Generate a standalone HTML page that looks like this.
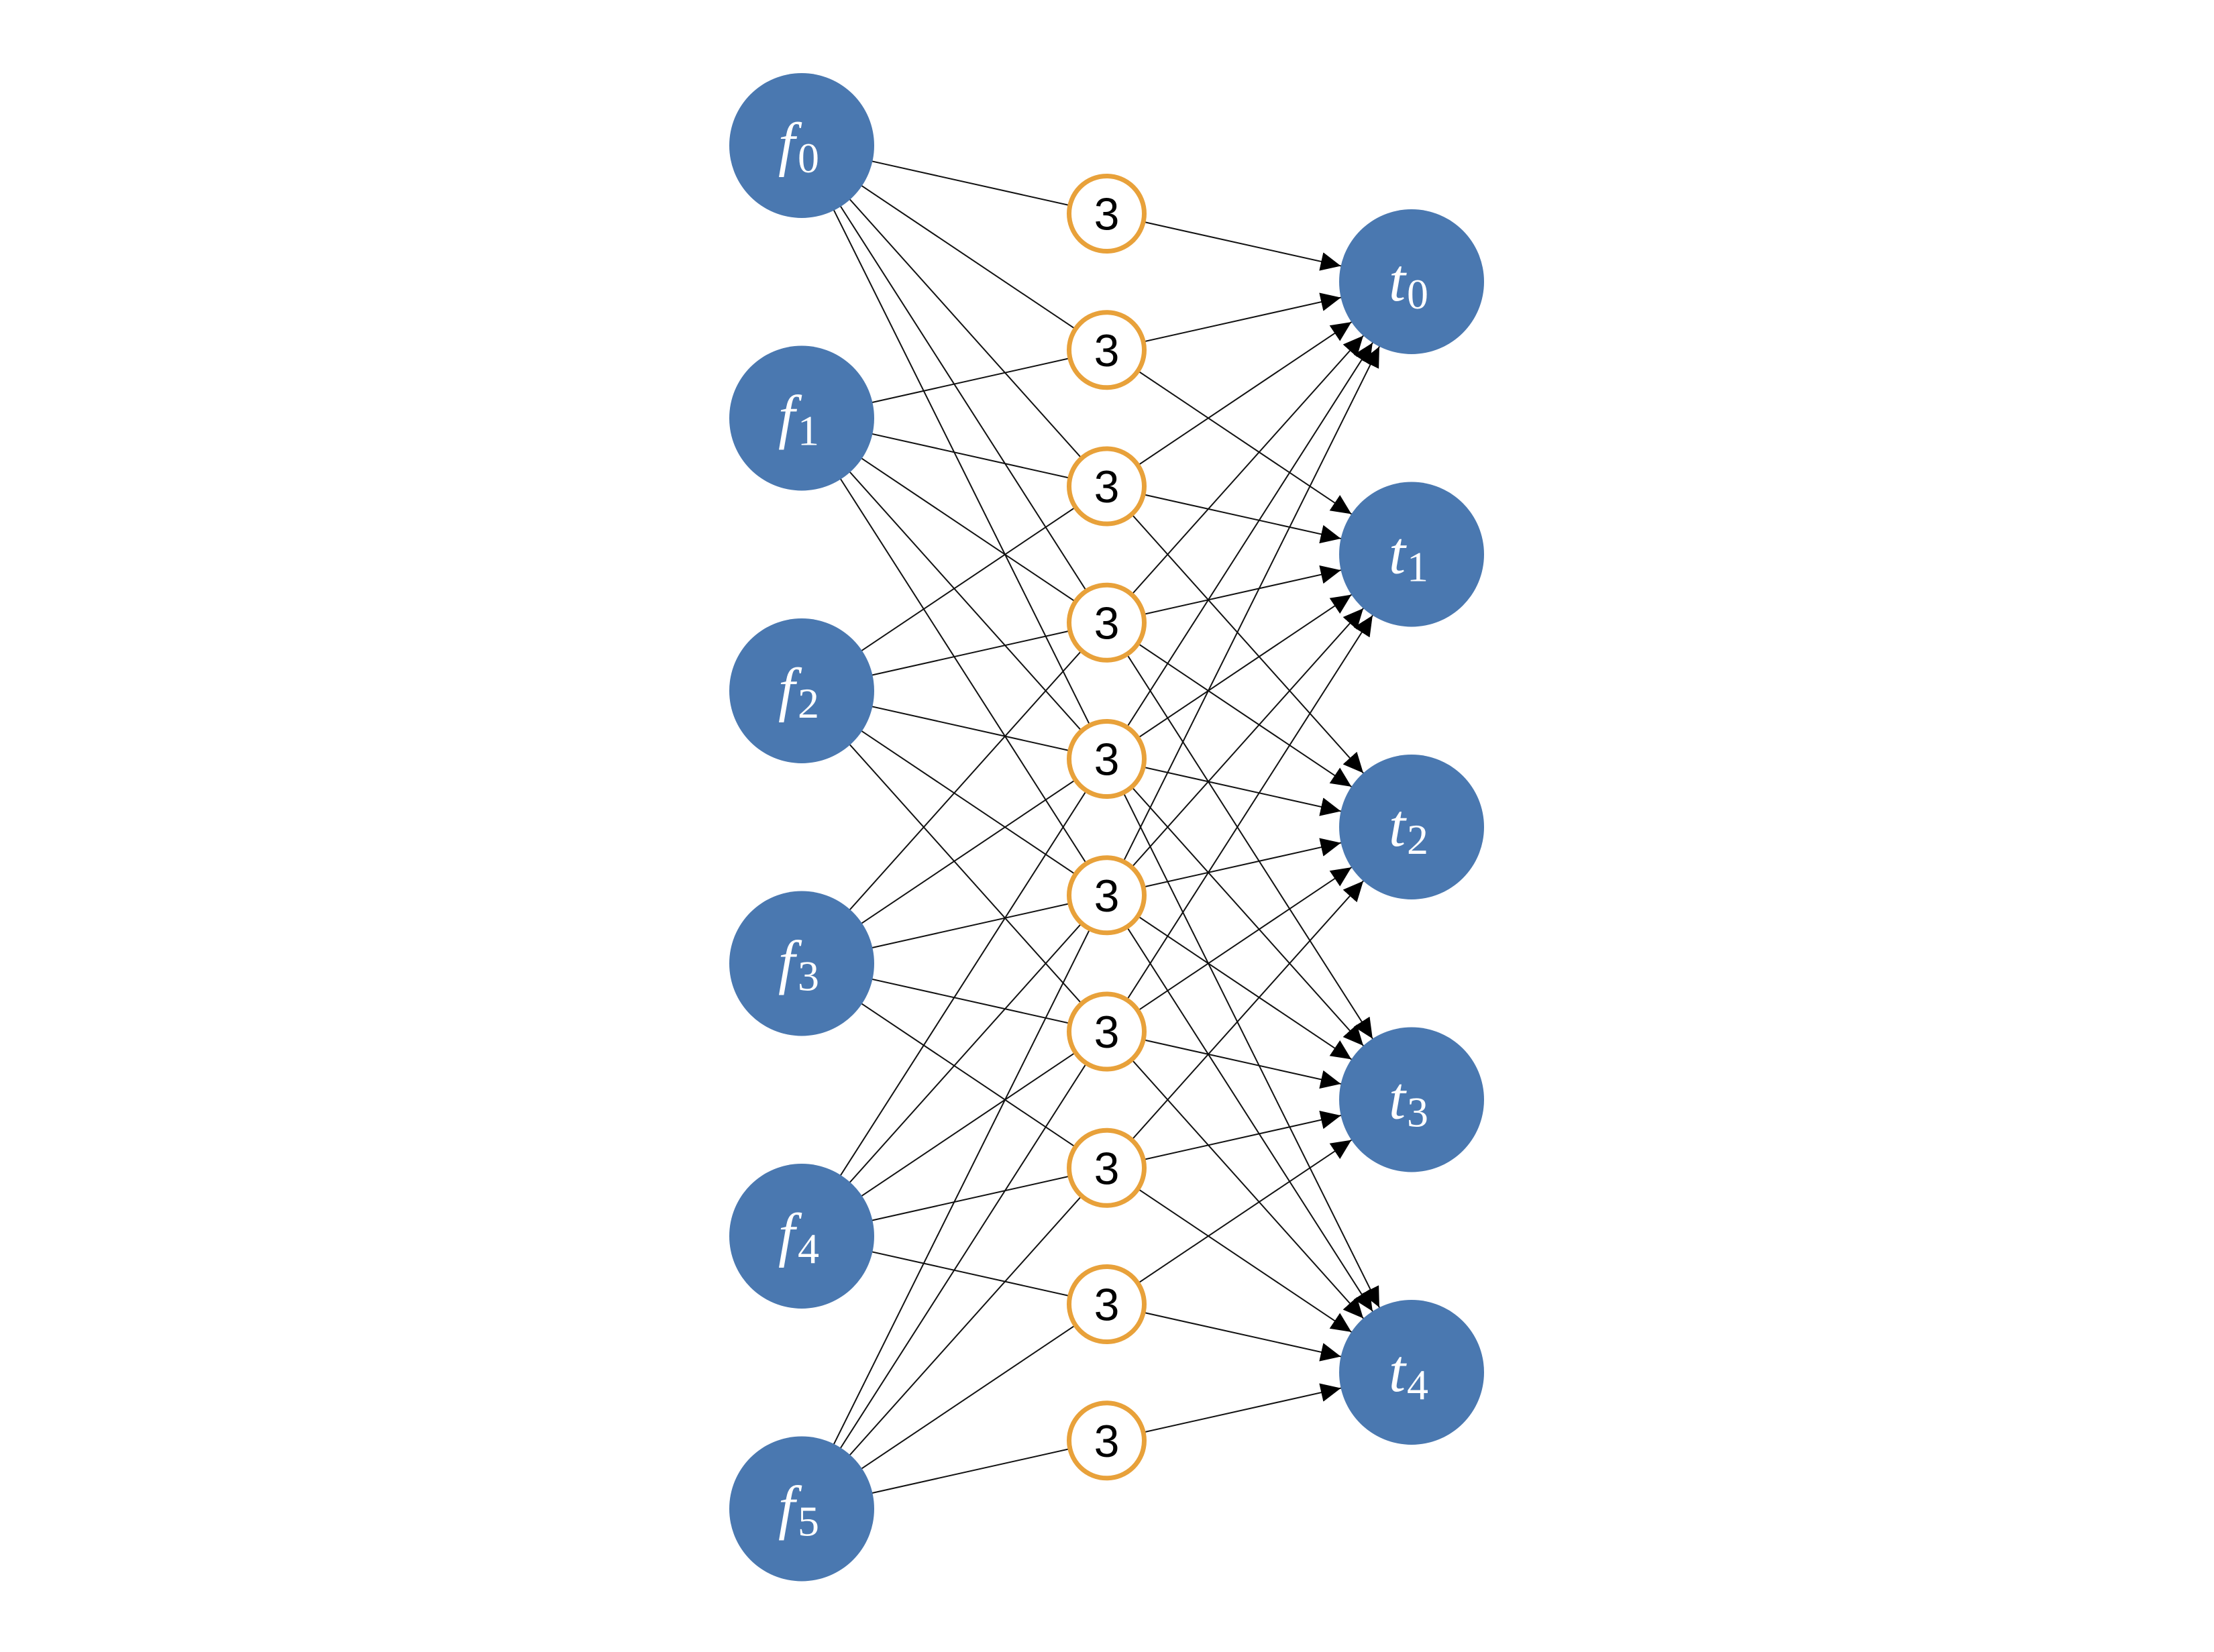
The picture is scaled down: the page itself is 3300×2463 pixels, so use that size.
<!DOCTYPE html>
<html><head><meta charset="utf-8"><style>
html,body{margin:0;padding:0;background:#fff;}
svg{display:block;}
</style></head><body>
<svg width="3300" height="2463" viewBox="0 0 3300 2463" xmlns="http://www.w3.org/2000/svg">
<defs>
<marker id="a" markerUnits="userSpaceOnUse" markerWidth="150" markerHeight="32" refX="138" refY="14" orient="auto">
<path d="M0,0 L30,14 L0,28 Z" fill="#000"/>
</marker>
</defs>
<g stroke="#111" stroke-width="2" marker-end="url(#a)">
<line x1="1195" y1="217" x2="2104" y2="420"/><line x1="1195" y1="217" x2="2104" y2="826.5"/><line x1="1195" y1="217" x2="2104" y2="1233"/><line x1="1195" y1="217" x2="2104" y2="1639.5"/><line x1="1195" y1="217" x2="2104" y2="2046"/>
<line x1="1195" y1="623.5" x2="2104" y2="420"/><line x1="1195" y1="623.5" x2="2104" y2="826.5"/><line x1="1195" y1="623.5" x2="2104" y2="1233"/><line x1="1195" y1="623.5" x2="2104" y2="1639.5"/><line x1="1195" y1="623.5" x2="2104" y2="2046"/>
<line x1="1195" y1="1030" x2="2104" y2="420"/><line x1="1195" y1="1030" x2="2104" y2="826.5"/><line x1="1195" y1="1030" x2="2104" y2="1233"/><line x1="1195" y1="1030" x2="2104" y2="1639.5"/><line x1="1195" y1="1030" x2="2104" y2="2046"/>
<line x1="1195" y1="1436.5" x2="2104" y2="420"/><line x1="1195" y1="1436.5" x2="2104" y2="826.5"/><line x1="1195" y1="1436.5" x2="2104" y2="1233"/><line x1="1195" y1="1436.5" x2="2104" y2="1639.5"/><line x1="1195" y1="1436.5" x2="2104" y2="2046"/>
<line x1="1195" y1="1843" x2="2104" y2="420"/><line x1="1195" y1="1843" x2="2104" y2="826.5"/><line x1="1195" y1="1843" x2="2104" y2="1233"/><line x1="1195" y1="1843" x2="2104" y2="1639.5"/><line x1="1195" y1="1843" x2="2104" y2="2046"/>
<line x1="1195" y1="2249.5" x2="2104" y2="420"/><line x1="1195" y1="2249.5" x2="2104" y2="826.5"/><line x1="1195" y1="2249.5" x2="2104" y2="1233"/><line x1="1195" y1="2249.5" x2="2104" y2="1639.5"/><line x1="1195" y1="2249.5" x2="2104" y2="2046"/>
</g>
<g fill="#fff" stroke="#e8a13a" stroke-width="7">
<circle cx="1649.5" cy="318.5" r="56"/><circle cx="1649.5" cy="521.75" r="56"/><circle cx="1649.5" cy="725" r="56"/><circle cx="1649.5" cy="928.25" r="56"/><circle cx="1649.5" cy="1131.5" r="56"/><circle cx="1649.5" cy="1334.75" r="56"/><circle cx="1649.5" cy="1538" r="56"/><circle cx="1649.5" cy="1741.25" r="56"/><circle cx="1649.5" cy="1944.5" r="56"/><circle cx="1649.5" cy="2147.75" r="56"/>
</g>
<g font-family="Liberation Sans, sans-serif" font-size="68" text-anchor="middle" fill="#000">
<text x="1649.5" y="342.5">3</text><text x="1649.5" y="545.75">3</text><text x="1649.5" y="749">3</text><text x="1649.5" y="952.25">3</text><text x="1649.5" y="1155.5">3</text><text x="1649.5" y="1358.75">3</text><text x="1649.5" y="1562">3</text><text x="1649.5" y="1765.25">3</text><text x="1649.5" y="1968.5">3</text><text x="1649.5" y="2171.75">3</text>
</g>
<g fill="#4a78b0">
<circle cx="1195" cy="217" r="108"/><circle cx="1195" cy="623.5" r="108"/><circle cx="1195" cy="1030" r="108"/><circle cx="1195" cy="1436.5" r="108"/><circle cx="1195" cy="1843" r="108"/><circle cx="1195" cy="2249.5" r="108"/>
<circle cx="2104" cy="420" r="108"/><circle cx="2104" cy="826.5" r="108"/><circle cx="2104" cy="1233" r="108"/><circle cx="2104" cy="1639.5" r="108"/><circle cx="2104" cy="2046" r="108"/>
</g>
<g font-family="Liberation Serif, serif" fill="#fff" font-size="90">
<text x="1160" y="245"><tspan font-style="italic">f</tspan><tspan font-size="64" dx="4" dy="12">0</tspan></text>
<text x="1160" y="651.5"><tspan font-style="italic">f</tspan><tspan font-size="64" dx="4" dy="12">1</tspan></text>
<text x="1160" y="1058"><tspan font-style="italic">f</tspan><tspan font-size="64" dx="4" dy="12">2</tspan></text>
<text x="1160" y="1464.5"><tspan font-style="italic">f</tspan><tspan font-size="64" dx="4" dy="12">3</tspan></text>
<text x="1160" y="1871"><tspan font-style="italic">f</tspan><tspan font-size="64" dx="4" dy="12">4</tspan></text>
<text x="1160" y="2277.5"><tspan font-style="italic">f</tspan><tspan font-size="64" dx="4" dy="12">5</tspan></text>
<text x="2070" y="448"><tspan font-style="italic">t</tspan><tspan font-size="64" dx="2" dy="12">0</tspan></text>
<text x="2070" y="854.5"><tspan font-style="italic">t</tspan><tspan font-size="64" dx="2" dy="12">1</tspan></text>
<text x="2070" y="1261"><tspan font-style="italic">t</tspan><tspan font-size="64" dx="2" dy="12">2</tspan></text>
<text x="2070" y="1667.5"><tspan font-style="italic">t</tspan><tspan font-size="64" dx="2" dy="12">3</tspan></text>
<text x="2070" y="2074"><tspan font-style="italic">t</tspan><tspan font-size="64" dx="2" dy="12">4</tspan></text>
</g>
</svg>
</body></html>
